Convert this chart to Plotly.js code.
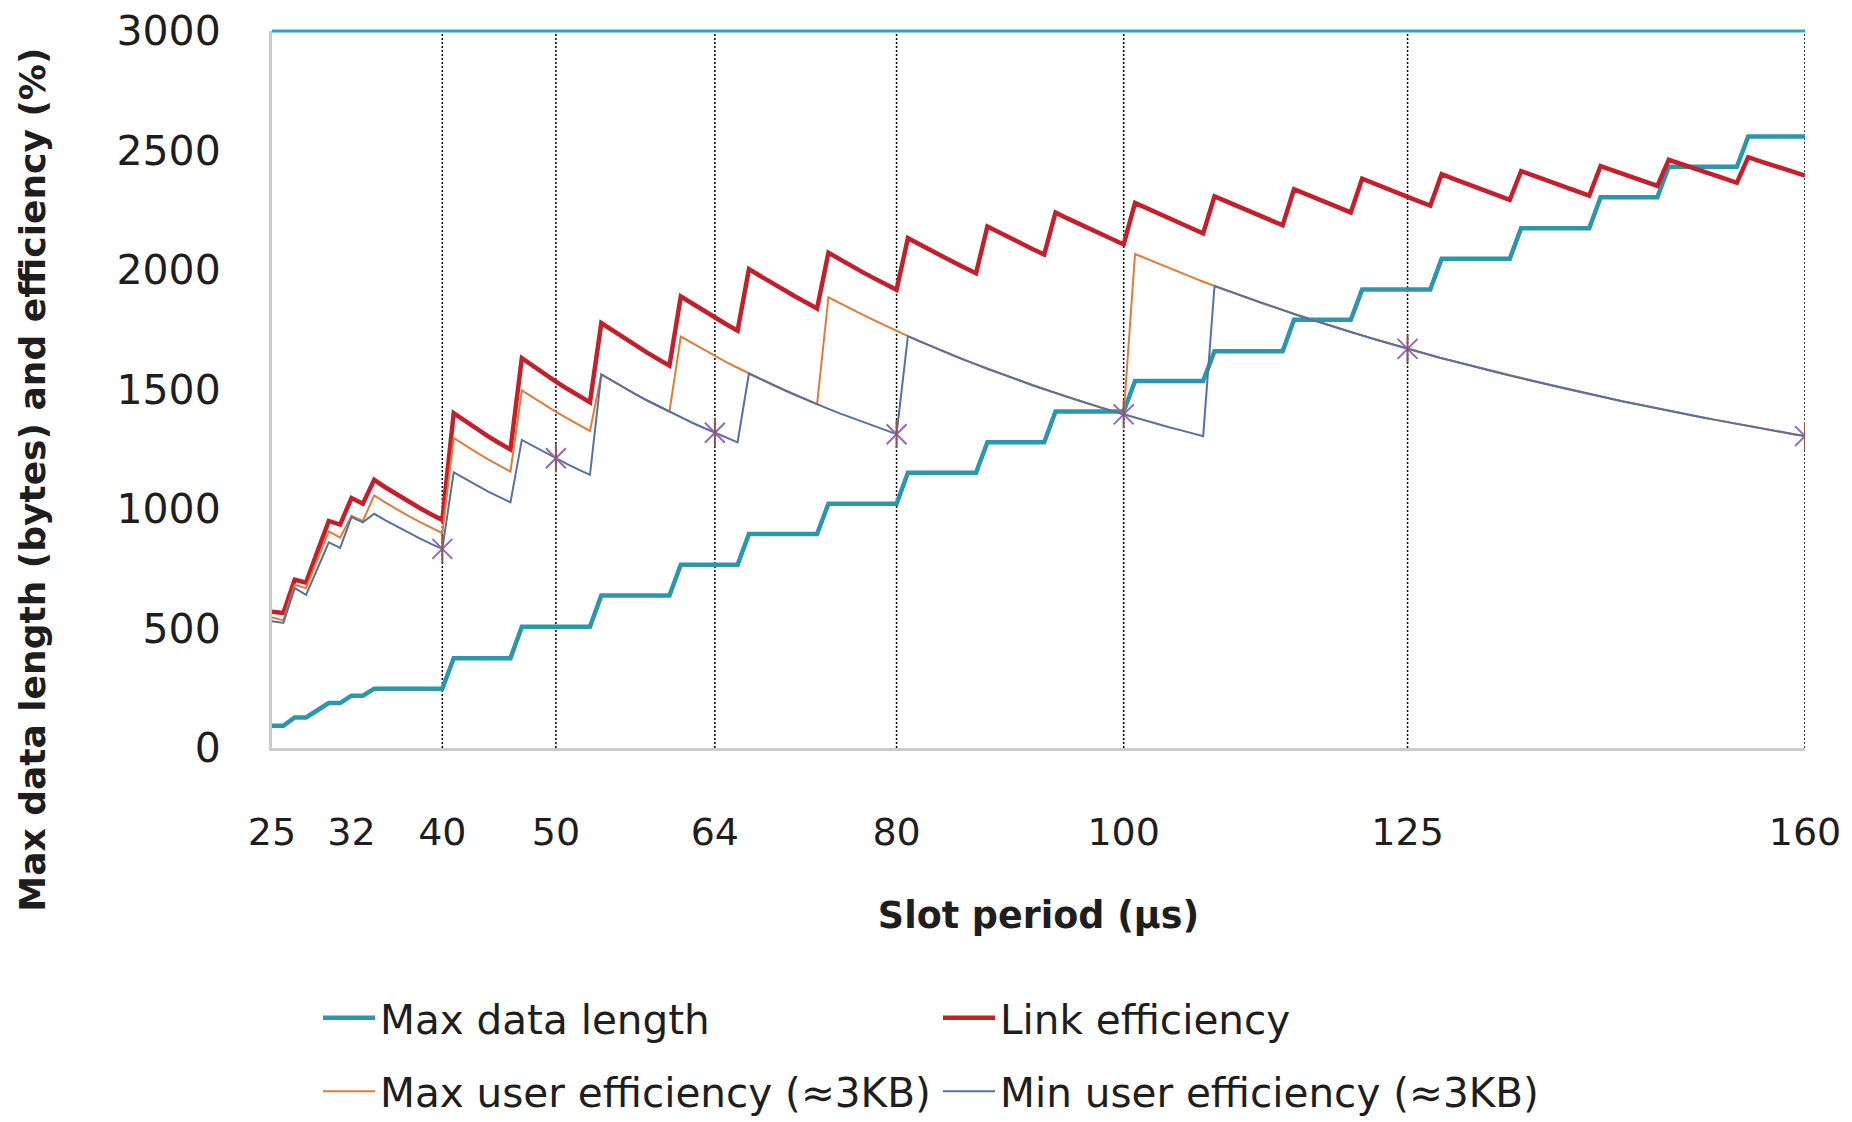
<!DOCTYPE html>
<html>
<head>
<meta charset="utf-8">
<script src="https://cdn.plot.ly/plotly-3.0.1.min.js"></script>
<style>
html, body { margin: 0; padding: 0; background: #ffffff; }
#chart { width: 1852px; height: 1122px; }
</style>
</head>
<body>
<div id="chart"></div>
<script>
// Slot period (µs)
const slotPeriod = [
  25,26,27,28,29,30,31,32,33,34,
  35,36,37,38,39,40,41,42,43,44,
  45,46,47,48,49,50,51,52,53,54,
  55,56,57,58,59,60,61,62,63,64,
  65,66,67,68,69,70,71,72,73,74,
  75,76,77,78,79,80,81,82,83,84,
  85,86,87,88,89,90,91,92,93,94,
  95,96,97,98,99,100,101,102,103,104,
  105,106,107,108,109,110,111,112,113,114,
  115,116,117,118,119,120,121,122,123,124,
  125,126,127,128,129,130,131,132,133,134,
  135,136,137,138,139,140,141,142,143,144,
  145,146,147,148,149,150,151,152,153,154,
  155,156,157,158,159,160
];

// Max data length (bytes)
const maxDataLength = [
  93,93,128,128,158,188,188,219,219,248,
  248,248,248,248,248,248,376,376,376,376,
  376,376,507,507,507,507,507,507,507,638,
  638,638,638,638,638,638,767,767,767,767,
  767,767,895,895,895,895,895,895,895,1022,
  1022,1022,1022,1022,1022,1022,1152,1152,1152,1152,
  1152,1152,1152,1279,1279,1279,1279,1279,1279,1408,
  1408,1408,1408,1408,1408,1408,1536,1536,1536,1536,
  1536,1536,1536,1660,1660,1660,1660,1660,1660,1660,
  1792,1792,1792,1792,1792,1792,1918,1918,1918,1918,
  1918,1918,1918,2047,2047,2047,2047,2047,2047,2047,
  2175,2175,2175,2175,2175,2175,2175,2304,2304,2304,
  2304,2304,2304,2432,2432,2432,2432,2432,2432,2432,
  2559,2559,2559,2559,2559,2559
];

// Link efficiency (%)
const linkEfficiency = [
  570,565,704,692,822,950,935,1046,1022,1122,
  1090,1060,1031,1004,978,954,1401,1368,1336,1305,
  1276,1249,1631,1597,1564,1533,1503,1474,1446,1778,
  1746,1714,1684,1655,1627,1600,1889,1859,1829,1800,
  1773,1746,2004,1975,1946,1918,1891,1865,1839,2072,
  2044,2017,1991,1966,1941,1917,2133,2107,2082,2057,
  2033,2009,1986,2182,2157,2134,2110,2087,2065,2241,
  2217,2194,2172,2150,2128,2107,2281,2259,2237,2215,
  2194,2173,2153,2308,2287,2266,2246,2226,2206,2187,
  2338,2318,2298,2279,2259,2241,2382,2362,2343,2324,
  2306,2287,2269,2401,2382,2364,2346,2328,2311,2293,
  2414,2396,2379,2362,2345,2328,2311,2435,2418,2401,
  2385,2368,2352,2461,2444,2428,2412,2396,2381,2365,
  2472,2456,2440,2425,2410,2395
];

// Max user efficiency (≈3KB)
const maxUserEfficiency = [
  546,534,683,669,788,906,880,972,950,1057,
  1027,998,971,946,922,899,1297,1266,1237,1209,
  1182,1156,1496,1465,1435,1406,1379,1352,1327,1563,
  1535,1507,1481,1455,1431,1407,1721,1694,1667,1641,
  1615,1591,1567,1544,1522,1500,1479,1458,1438,1886,
  1861,1837,1813,1790,1767,1745,1723,1702,1682,1662,
  1642,1623,1605,1586,1569,1551,1534,1517,1501,1485,
  1469,1454,1439,1424,1410,1396,2067,2047,2027,2008,
  1989,1970,1951,1933,1916,1898,1881,1864,1848,1832,
  1816,1800,1785,1769,1755,1740,1726,1711,1698,1684,
  1670,1657,1644,1631,1619,1606,1594,1582,1570,1558,
  1547,1535,1524,1513,1502,1491,1481,1470,1460,1450,
  1440,1430,1420,1411,1401,1392,1383,1374,1365,1356,
  1347,1338,1330,1322,1313,1305
];

// Min user efficiency (≈3KB)
const minUserEfficiency = [
  530,523,669,641,750,860,837,966,944,980,
  952,926,901,877,854,833,1153,1126,1099,1074,
  1051,1028,1289,1263,1237,1212,1188,1165,1143,1563,
  1535,1507,1481,1455,1431,1407,1384,1361,1340,1319,
  1298,1279,1567,1544,1522,1500,1479,1458,1438,1419,
  1400,1382,1364,1346,1329,1313,1723,1702,1682,1662,
  1642,1623,1605,1586,1569,1551,1534,1517,1501,1485,
  1469,1454,1439,1424,1410,1396,1382,1369,1355,1342,
  1330,1317,1305,1933,1916,1898,1881,1864,1848,1832,
  1816,1800,1785,1769,1755,1740,1726,1711,1698,1684,
  1670,1657,1644,1631,1619,1606,1594,1582,1570,1558,
  1547,1535,1524,1513,1502,1491,1481,1470,1460,1450,
  1440,1430,1420,1411,1401,1392,1383,1374,1365,1356,
  1347,1338,1330,1322,1313,1305
];

const xTickValues = [25, 32, 40, 50, 64, 80, 100, 125, 160];
const yTickValues = [0, 500, 1000, 1500, 2000, 2500, 3000];
const dottedPeriods = [40, 50, 64, 80, 100, 125, 160];
const starPeriods = [40, 50, 64, 80, 100, 125, 160];
const seriesNames = [
  'Max data length',
  'Link efficiency',
  'Max user efficiency (≈3KB)',
  'Min user efficiency (≈3KB)'
];

const FONT = 'DejaVu Sans, Verdana, sans-serif';
const TXT = '#1e1e1e';
const starY = starPeriods.map(p => minUserEfficiency[slotPeriod.indexOf(p)]);
const starLine = { color: 'rgba(130,130,160,0.55)', width: 2 };

const traces = [
  { x: slotPeriod, y: maxDataLength, mode: 'lines', name: seriesNames[0],
    line: { color: '#2B96AC', width: 4.5 }, legend: 'legend' },
  { x: slotPeriod, y: linkEfficiency, mode: 'lines', name: seriesNames[1],
    line: { color: '#C41F2D', width: 4.5 }, legend: 'legend' },
  { x: slotPeriod, y: maxUserEfficiency, mode: 'lines', name: seriesNames[2],
    line: { color: '#E07C3A', width: 2 }, legend: 'legend2' },
  { x: slotPeriod, y: minUserEfficiency, mode: 'lines', name: seriesNames[3],
    line: { color: '#56709F', width: 2 }, legend: 'legend2' },
  { x: starPeriods, y: starY, mode: 'markers', showlegend: false, hoverinfo: 'skip',
    marker: { symbol: 'x-thin-open', size: 20, line: starLine } },
  { x: starPeriods, y: starY, mode: 'markers', showlegend: false, hoverinfo: 'skip',
    marker: { symbol: 'line-ns-open', size: 20, line: starLine } }
];

const shapes = dottedPeriods.map(p => ({
  type: 'line', xref: 'x', yref: 'y', x0: p, x1: p, y0: 0, y1: 3000, layer: 'below',
  line: { color: '#000000', width: 1.5, dash: '2px,2px' }
}));
shapes.push({
  type: 'line', xref: 'paper', yref: 'paper', x0: 0, x1: 1, y0: 1, y1: 1, layer: 'above',
  line: { color: '#31A2C2', width: 3 }
});

const legendCommon = {
  orientation: 'h', xref: 'paper', yref: 'paper', xanchor: 'left', yanchor: 'middle',
  font: { family: FONT, size: 40.5, color: TXT },
  entrywidth: 553, entrywidthmode: 'pixels', itemwidth: 52,
  bgcolor: 'rgba(0,0,0,0)', borderwidth: 0, traceorder: 'normal'
};

const layout = {
  width: 1852, height: 1122,
  margin: { l: 272, r: 47, t: 31, b: 374, pad: 0, autoexpand: false },
  paper_bgcolor: '#ffffff', plot_bgcolor: '#ffffff',
  font: { family: FONT, size: 38, color: TXT },
  showlegend: true,
  xaxis: {
    range: [25, 160], type: 'linear', tickmode: 'array', tickvals: xTickValues,
    ticktext: xTickValues.map(String), showgrid: false, zeroline: false,
    showline: true, linecolor: '#CBCBCB', linewidth: 3, ticks: '',
    ticklabelstandoff: 48, tickfont: { family: FONT, size: 38, color: TXT },
    automargin: false,
    title: { text: 'Slot period (µs)', standoff: 50,
             font: { family: FONT, size: 36.5, color: TXT, weight: 'bold' } }
  },
  yaxis: {
    range: [0, 3000], tickmode: 'array', tickvals: yTickValues, showgrid: false, zeroline: false,
    showline: true, linecolor: '#CBCBCB', linewidth: 3, ticks: '',
    ticklabelstandoff: 40, tickfont: { family: FONT, size: 41, color: TXT },
    automargin: false
  },
  legend: Object.assign({}, legendCommon, { x: 0.030, y: -0.3766 }),
  legend2: Object.assign({}, legendCommon, { x: 0.030, y: -0.479 }),
  shapes: shapes,
  annotations: [{
    text: 'Max data length (bytes) and efficiency (%)', textangle: -90,
    xref: 'paper', yref: 'paper', x: -0.156, y: 0.374, xanchor: 'center', yanchor: 'middle',
    showarrow: false, font: { family: FONT, size: 36, color: TXT, weight: 'bold' }
  }]
};

Plotly.newPlot('chart', traces, layout, { displayModeBar: false, staticPlot: true });
</script>
</body>
</html>
